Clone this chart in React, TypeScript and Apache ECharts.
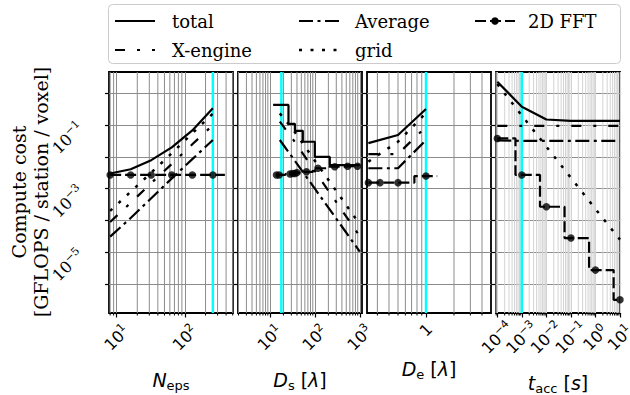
import React, { useEffect, useRef } from 'react';
import * as echarts from 'echarts';

// ---------------- data ----------------
// Panel 1: N_eps
const nEps = [8, 16, 32, 64, 128, 256];
const nEpsTotal = [3.0e-3, 4.1e-3, 7.9e-3, 2.0e-2, 6.8e-2, 3.4e-1];
const nEpsXeng = [9e-5, 3.6e-4, 1.5e-3, 6.0e-3, 2.5e-2, 1.0e-1];
const nEpsAvg = [3.1e-5, 1.2e-4, 5.0e-4, 2.1e-3, 8.5e-3, 3.4e-2];
const nEpsGrid = [2.0e-4, 8.0e-4, 3.2e-3, 1.3e-2, 5.5e-2, 2.3e-1];
const nEpsFftX = [8, 16, 32, 64, 128, 256, 384];
const nEpsFft = [2.7e-3, 2.7e-3, 2.7e-3, 2.7e-3, 2.7e-3, 2.7e-3, 2.7e-3];
const nEpsFftMarked = 6;

// Panel 2: D_s
const dsTotalX = [11.8, 25.9, 36, 54, 100, 215, 1000];
const dsTotal = [0.43, 0.11, 0.066, 0.030, 0.010, 5.5e-3, 5.5e-3];
const ds = [16.6, 33, 100, 1000];
const dsXeng = [0.129, 0.035, 3.6e-3, 3.2e-5];
const dsAvg = [0.034, 8.9e-3, 1.0e-3, 1.05e-5];
const dsGrid = [0.234, 0.071, 7.6e-3, 7.6e-5];
const dsFftX = [14, 16, 28, 32, 36, 40, 65, 117, 277, 537, 891];
const dsFft = [2.7e-3, 2.7e-3, 2.9e-3, 3.0e-3, 3.0e-3, 3.2e-3, 3.4e-3, 4.4e-3, 4.9e-3, 5.1e-3, 5.1e-3];
const dsFftMarked = 11;

// Panel 3: D_e
const de = [0.24, 0.5, 1.0];
const deTotal = [0.027, 0.049, 0.32];
const deXeng = [0.0123, 0.0123, 0.089];
const deAvg = [0.0044, 0.0044, 0.034];
const deGrid = [0.0071, 0.030, 0.24];
const deFftX = [0.24, 0.32, 0.5, 1.0, 1.32];
const deFft = [1.55e-3, 1.55e-3, 1.55e-3, 2.5e-3, 2.5e-3];
const deFftMarked = 4;

// Panel 4: t_acc
const tAcc = [1e-4, 1e-3, 1e-2, 1e-1, 1, 10];
const tTotal = [2.3, 0.38, 0.15, 0.135, 0.135, 0.135];
const tXeng = [0.095, 0.095, 0.095, 0.095, 0.095, 0.095];
const tAvg = [0.033, 0.032, 0.032, 0.032, 0.032, 0.032];
const tGrid = [1.95, 0.2, 0.021, 2.2e-3, 2.3e-4, 2.5e-5];
const tFft = [0.038, 2.7e-3, 2.7e-4, 2.8e-5, 2.75e-6, 3.2e-7];
const tFftMarked = 6;

// axes
const Y_MIN = 1.23e-7;
const Y_MAX = 4.68;
const yMajorTicks = [1e-6, 1e-5, 1e-4, 1e-3, 1e-2, 1e-1, 1];
const yLabelTicks = [1e-5, 1e-3, 1e-1];
const xLimits = [[7.7, 505], [1.95, 1120], [0.232, 5.0], [8.85e-5, 10]];
const xMajorTicks = [[10, 100], [10, 100, 1000], [1], [1e-4, 1e-3, 1e-2, 1e-1, 1, 10]];
// labels split in two interleaved sets so that none gets dropped
const xLabelSetA = [[10, 100], [10, 100, 1000], [1], [1e-4, 1e-2, 1]];
const xLabelSetB = [[], [], [], [1e-3, 1e-1, 10]];
const cyanX = [256, 18, 1, 1e-3];
const xNames = [
  '{i|N}{s|eps}',
  '{i|D}{s|s}{r| [}{i|λ}{r|]}',
  '{i|D}{s|e}{r| [}{i|λ}{r|]}',
  '{i|t}{s|acc}{r| [}{i|s}{r|]}',
];

// ---------------- styles ----------------
const LW = 2.2;
const DASH_XENG = [10, 12, 3, 12];
const DASH_AVG = [14, 4.5, 3, 4.5];
const DASH_GRID = [3, 8.5];
const DASH_FFT = [11, 4];
const GRID_LEFTS = [109, 238, 367, 496];
const GRID_TOP = 72;
const GRID_W = 124;
const GRID_H = 241;
const SERIF = 'DejaVu Serif';
const SANS = 'DejaVu Sans';

function zip(xs: number[], ys: number[]) {
  return xs.map((x, i) => [x, ys[i]]);
}

function stepsMid(xs: number[], ys: number[]) {
  const pts: number[][] = [[xs[0], ys[0]]];
  for (let i = 0; i < xs.length - 1; i++) {
    const m = (xs[i] + xs[i + 1]) / 2;
    pts.push([m, ys[i]], [m, ys[i + 1]]);
  }
  pts.push([xs[xs.length - 1], ys[ys.length - 1]]);
  return pts;
}

function minorValues(lo: number, hi: number) {
  const out: number[] = [];
  for (let k = Math.floor(Math.log10(lo)); k <= Math.ceil(Math.log10(hi)); k++) {
    for (let m = 2; m <= 9; m++) {
      const v = m * Math.pow(10, k);
      if (v > lo && v < hi) out.push(v);
    }
  }
  return out;
}

function expStr(e: number) {
  return e < 0 ? '−' + String(-e) : String(e);
}

function xLabel(i: number, margin: number, values: number[]) {
  return {
    show: values.length > 0, customValues: values, rotate: 45, align: 'center', verticalAlign: 'middle',
    interval: 0, hideOverlap: false,
    margin, fontFamily: SANS, fontSize: 16, color: '#000', lineHeight: 20,
    showMinLabel: true, showMaxLabel: true,
    rich: { sup: { fontFamily: SANS, fontSize: 11, verticalAlign: 'top', lineHeight: 11 } },
    formatter: (v: number) => {
      const e = Math.round(Math.log10(v));
      if (Math.abs(Math.log10(v) - e) > 1e-6) return '';
      if (i === 2 && e === 0) return '1';
      return '10{sup|' + expStr(e) + '}';
    },
  };
}

export default function App() {
  const ref = useRef<HTMLDivElement>(null);
  useEffect(() => {
    if (!ref.current) return;
    const chart = echarts.init(ref.current, undefined, { renderer: 'svg' });

    const panels = [
      { total: zip(nEps, nEpsTotal), totalStep: false, xeng: zip(nEps, nEpsXeng), avg: zip(nEps, nEpsAvg), grid: zip(nEps, nEpsGrid), fftX: nEpsFftX, fftY: nEpsFft, fftN: nEpsFftMarked },
      { total: zip(dsTotalX, dsTotal), totalStep: true, xeng: zip(ds, dsXeng), avg: zip(ds, dsAvg), grid: zip(ds, dsGrid), fftX: dsFftX, fftY: dsFft, fftN: dsFftMarked },
      { total: zip(de, deTotal), totalStep: false, xeng: zip(de, deXeng), avg: zip(de, deAvg), grid: zip(de, deGrid), fftX: deFftX, fftY: deFft, fftN: deFftMarked },
      { total: zip(tAcc, tTotal), totalStep: false, xeng: zip(tAcc, tXeng), avg: zip(tAcc, tAvg), grid: zip(tAcc, tGrid), fftX: tAcc, fftY: tFft, fftN: tFftMarked },
    ];

    const grids: any[] = [];
    const xAxes: any[] = [];
    const yAxes: any[] = [];
    const series: any[] = [];
    const extraX: any[] = [];

    panels.forEach((p, i) => {
      const vColor = i === 3 ? '#d3d3d3' : '#8c8c8c';
      const margin = i === 2 ? 17 : 25;
      grids.push({
        left: GRID_LEFTS[i], top: GRID_TOP, width: GRID_W, height: GRID_H,
        show: true, borderColor: '#000', borderWidth: 1.8, backgroundColor: 'transparent',
        containLabel: false, outerBoundsMode: 'none',
      });
      const [lo, hi] = xLimits[i];
      xAxes.push({
        type: 'log', gridIndex: i, min: lo, max: hi, logBase: 10, position: 'bottom',
        name: xNames[i], nameLocation: 'middle',
        nameGap: i === 2 ? 44 : i === 3 ? 58 : 55,
        nameTextStyle: {
          fontFamily: SANS, fontSize: 19, color: '#000',
          rich: {
            i: { fontFamily: SANS, fontStyle: 'italic', fontSize: 19, lineHeight: 24, verticalAlign: 'middle' },
            s: { fontFamily: SANS, fontSize: 13, lineHeight: 13, verticalAlign: 'bottom' },
            r: { fontFamily: SANS, fontSize: 19, lineHeight: 24, verticalAlign: 'middle' },
          },
        },
        axisLine: { show: false },
        axisTick: { show: true, length: 4.5, lineStyle: { color: '#000', width: 1.2 }, customValues: xMajorTicks[i] },
        axisLabel: xLabel(i, margin, xLabelSetA[i]),
        splitLine: { show: true, lineStyle: { color: vColor, width: 1 } },
        minorTick: { show: false },
        minorSplitLine: { show: false },
      });
      if (xLabelSetB[i].length > 0) {
        extraX.push({
          type: 'log', gridIndex: i, min: lo, max: hi, logBase: 10, position: 'bottom', offset: 0,
          axisLine: { show: false },
          axisTick: { show: false },
          splitLine: { show: false },
          axisLabel: xLabel(i, margin, xLabelSetB[i]),
        });
      }
      yAxes.push({
        type: 'log', gridIndex: i, min: Y_MIN, max: Y_MAX, logBase: 10,
        axisLine: { show: false },
        axisTick: { show: true, length: 4, lineStyle: { color: '#000', width: 1.2 }, customValues: yMajorTicks },
        axisLabel: {
          show: i === 0, customValues: yLabelTicks, rotate: 45, margin: 28,
          interval: 0, hideOverlap: false,
          fontFamily: SERIF, fontSize: 16, color: '#000', lineHeight: 20,
          rich: { sup: { fontFamily: SERIF, fontSize: 11, verticalAlign: 'top', lineHeight: 11 } },
          formatter: (v: number) => {
            const e = Math.round(Math.log10(v));
            return '10{sup|' + expStr(e) + '}';
          },
        },
        splitLine: { show: true, lineStyle: { color: '#8c8c8c', width: 1 } },
      });

      // minor vertical grid lines + minor ticks
      series.push({
        type: 'custom', xAxisIndex: i, yAxisIndex: i, silent: true, clip: false, z: 1,
        data: minorValues(lo, hi).map((v) => [v, 1e-3]),
        encode: { x: 0, y: 1 },
        renderItem: (params: any, api: any) => {
          const x = api.coord([api.value(0), 1e-3])[0];
          const cs = params.coordSys;
          return {
            type: 'group',
            children: [
              { type: 'line', shape: { x1: x, y1: cs.y, x2: x, y2: cs.y + cs.height }, style: { stroke: vColor, lineWidth: 1 } },
              { type: 'line', shape: { x1: x, y1: cs.y + cs.height, x2: x, y2: cs.y + cs.height + 2.5 }, style: { stroke: '#000', lineWidth: 1 } },
            ],
          };
        },
      });
      // cyan marker line
      series.push({
        type: 'line', xAxisIndex: i, yAxisIndex: i, silent: true, z: 2, symbol: 'none',
        data: [[cyanX[i], Y_MIN], [cyanX[i], Y_MAX]],
        lineStyle: { color: '#00ffff', width: 2.5 },
      });
      const common = { type: 'line', xAxisIndex: i, yAxisIndex: i, silent: true, z: 3, symbol: 'none', showSymbol: false, clip: true };
      series.push({ ...common, name: 'total', data: p.total, step: p.totalStep ? 'end' : false, lineStyle: { color: '#000', width: LW, type: 'solid' } });
      series.push({ ...common, name: 'X-engine', data: p.xeng, lineStyle: { color: '#000', width: LW, type: DASH_XENG } });
      series.push({ ...common, name: 'Average', data: p.avg, lineStyle: { color: '#000', width: LW, type: DASH_AVG } });
      series.push({ ...common, name: 'grid', data: p.grid, lineStyle: { color: '#000', width: 2.5, type: DASH_GRID } });
      series.push({ ...common, name: '2D FFT', data: stepsMid(p.fftX, p.fftY), lineStyle: { color: '#000', width: LW, type: DASH_FFT } });
      series.push({
        type: 'scatter', xAxisIndex: i, yAxisIndex: i, silent: true, z: 4, symbol: 'circle', symbolSize: 7.5,
        itemStyle: { color: '#000' },
        data: zip(p.fftX, p.fftY).slice(0, p.fftN),
      });
    });

    // legend (graphic)
    const legendItems = [
      { label: 'total', col: 0, row: 0, dash: null as number[] | null, w: LW, marker: false },
      { label: 'Average', col: 1, row: 0, dash: DASH_AVG, w: LW, marker: false },
      { label: '2D FFT', col: 2, row: 0, dash: DASH_FFT, w: LW, marker: true },
      { label: 'X-engine', col: 0, row: 1, dash: DASH_XENG, w: LW, marker: false },
      { label: 'grid', col: 1, row: 1, dash: DASH_GRID, w: 2.5, marker: false },
    ];
    const handleX = [115, 299, 475];
    const textX = [172, 355, 528];
    const rowY = [21, 50];
    const graphic: any[] = [
      {
        type: 'rect', shape: { x: 108.5, y: 4.5, width: 512, height: 59, r: 4 },
        style: { fill: 'rgba(255,255,255,0.8)', stroke: '#cccccc', lineWidth: 1 }, z: 10,
      },
    ];
    legendItems.forEach((it) => {
      const x0 = handleX[it.col];
      const y = rowY[it.row];
      graphic.push({
        type: 'line', shape: { x1: x0, y1: y, x2: x0 + 40, y2: y }, z: 11,
        style: { stroke: '#000', lineWidth: it.w, lineDash: it.dash || undefined },
      });
      if (it.marker) {
        graphic.push({ type: 'circle', shape: { cx: x0 + 20, cy: y, r: 3.75 }, style: { fill: '#000' }, z: 12 });
      }
      graphic.push({
        type: 'text', x: textX[it.col], y, z: 12,
        style: { text: it.label, fontFamily: SERIF, fontSize: 18, fill: '#000', align: 'left', verticalAlign: 'middle' },
      });
    });
    // y-axis title
    graphic.push({
      type: 'text', x: 19, y: 192, rotation: Math.PI / 2, z: 12,
      style: { text: 'Compute cost', fontFamily: SERIF, fontSize: 19, fill: '#000', align: 'center', verticalAlign: 'middle' },
    });
    graphic.push({
      type: 'text', x: 41, y: 192, rotation: Math.PI / 2, z: 12,
      style: { text: '[GFLOPS / station / voxel]', fontFamily: SERIF, fontSize: 19, fill: '#000', align: 'center', verticalAlign: 'middle' },
    });

    chart.setOption({
      animation: false,
      backgroundColor: '#ffffff',
      grid: grids,
      xAxis: [...xAxes, ...extraX],
      yAxis: yAxes,
      series,
      graphic,
    });
    return () => chart.dispose();
  }, []);

  return <div ref={ref} style={{ position: 'fixed', left: 0, top: 0, width: 630, height: 395 }} />;
}
